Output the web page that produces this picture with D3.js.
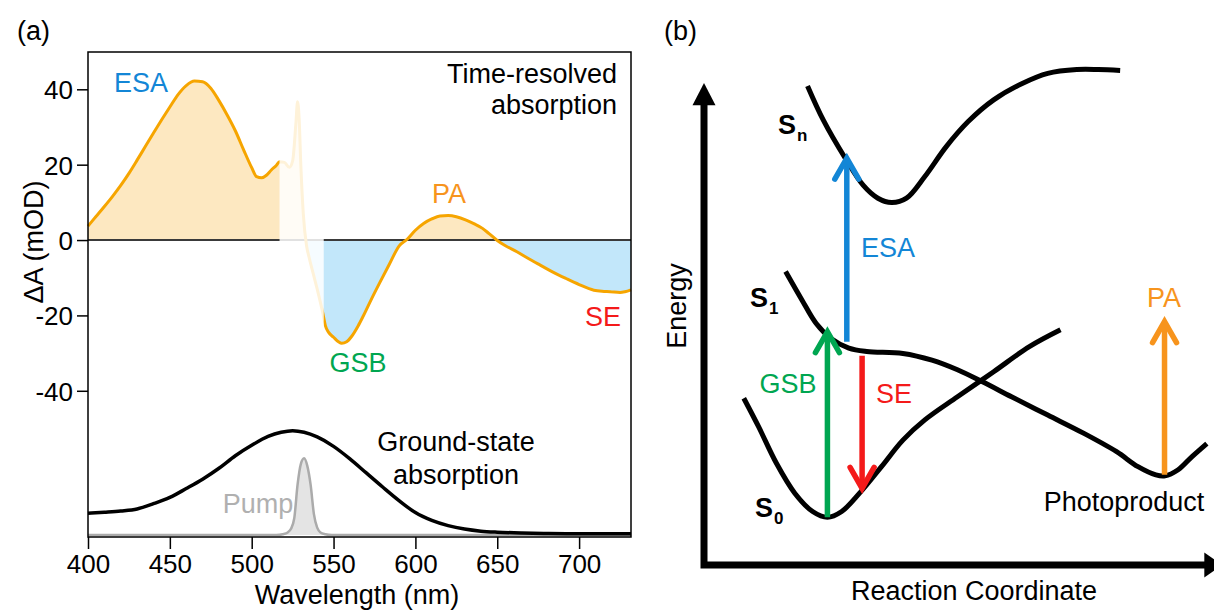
<!DOCTYPE html>
<html>
<head>
<meta charset="utf-8">
<script src="https://cdn.jsdelivr.net/npm/d3@7"></script>
<style>
  body { margin: 0; background: #fff; }
  text { font-family: "Liberation Sans", Arial, Helvetica, sans-serif; }
</style>
</head>
<body>
<div id="chart"></div>
<script>
// ---- panel (a) data ----
// transient absorption spectrum (mOD)
var taWavelength = [400, 405, 410, 415, 420, 425, 430, 435, 440, 445, 450, 455, 460, 465, 470, 475, 480, 485, 490, 495,
  500, 503, 506, 509, 512, 515, 517, 520, 523, 525, 527, 528, 529, 530, 531.5, 533.5, 535, 537.5, 540, 543.5,
  545, 547, 550, 553, 555, 558, 561, 565, 568, 573, 578, 584, 590, 595, 600, 605, 610, 615, 620, 625,
  631, 636, 641, 645, 650, 655, 662, 669, 676, 684, 692, 700, 709, 714, 719, 725, 728, 731.7];
var taSignal = [3.7, 6.3, 8.9, 11.6, 14.5, 17.7, 21.2, 24.8, 28.4, 31.9, 35.3, 38.6, 41.0, 42.2, 42.0, 40.3, 37.0, 33.2, 29.0, 24.0,
  19.2, 16.8, 16.5, 17.2, 18.6, 19.8, 20.8, 20.6, 19.3, 21.0, 31.0, 36.7, 32.0, 20.0, 7.1, -1.5, -4.5, -8.8, -13.0, -19.5,
  -22.7, -24.5, -25.8, -27.0, -27.4, -27.0, -25.6, -22.8, -20.3, -15.8, -11.5, -6.5, -1.6, 0.2, 2.6, 4.4, 5.6, 6.4, 6.5, 6.2,
  5.3, 4.3, 3.1, 1.7, -0.1, -1.5, -3.1, -4.9, -6.6, -8.5, -10.2, -11.8, -13.3, -13.6, -13.7, -13.9, -13.7, -13.2];

// normalised ground-state absorption
var gsWavelength = [400, 410, 420, 430, 440, 450, 460, 470, 480, 490, 500, 510, 518, 525, 532, 540, 550, 560, 570, 580,
  590, 600, 610, 620, 630, 640, 650, 665, 680, 700, 731.7];
var gsAbsorbance = [0.208, 0.218, 0.23, 0.25, 0.30, 0.36, 0.445, 0.535, 0.64, 0.76, 0.86, 0.945, 0.985, 1.0, 0.985, 0.94, 0.85, 0.73, 0.595, 0.46,
  0.33, 0.215, 0.14, 0.09, 0.057, 0.037, 0.027, 0.019, 0.015, 0.012, 0.012];

// pump spectrum (same normalisation)
var pumpWavelength = [400, 515, 519, 522, 524, 526, 528, 530, 532, 534, 536, 538, 540, 542, 545, 549, 731.7];
var pumpIntensity = [0, 0, 0.008, 0.025, 0.06, 0.16, 0.48, 0.68, 0.735, 0.66, 0.48, 0.2, 0.07, 0.025, 0.008, 0, 0];

var xTicks = [400, 450, 500, 550, 600, 650, 700];
var yTicks = [40, 20, 0, -20, -40];
var pumpScatter = [517, 544]; // range hidden by pump scatter

// ---- panel (b) data (arbitrary units) ----
var s0Coord = [7.8, 10.7, 14.2, 17.8, 21.3, 24.2, 27.0, 30.5, 34.8, 39.0, 43.3, 49.7, 56.8, 63.8, 69.9];
var s0Energy = [34.6, 28.7, 21.1, 14.9, 11.1, 9.9, 11.1, 14.9, 20.4, 25.9, 30.1, 34.9, 40.1, 45.3, 48.8];
var s1Coord = [16.0, 19.2, 22.0, 24.9, 28.4, 31.9, 39.0, 44.7, 49.7, 54.6, 60.3, 67.4, 74.5, 80.9, 85.1, 88.6, 90.4, 92.9, 95.7, 98.6];
var s1Energy = [60.9, 55.0, 50.1, 47.0, 45.0, 44.3, 43.9, 42.5, 40.5, 38.0, 34.9, 31.1, 27.3, 23.5, 20.4, 18.7, 18.5, 19.7, 22.5, 25.2];
var snCoord = [20.3, 23.4, 27.7, 31.2, 34.1, 36.8, 39.7, 43.3, 47.5, 51.8, 56.8, 62.4, 67.4, 73.1, 77.3, 81.6];
var snEnergy = [99.4, 92.3, 84.4, 78.8, 76.1, 75.2, 76.1, 80.6, 86.8, 92.0, 96.5, 99.9, 102.0, 102.8, 102.8, 102.6];

var arrowNames = ["GSB", "ESA", "SE", "PA"];
var arrowCoord = [24.2, 28.0, 31.0, 90.3];
var arrowFrom = [9.9, 46.3, 43.4, 18.7];
var arrowTo = [48.4, 84.4, 15.9, 50.5];

var colors = {
  ESA: "#1386d6",
  GSB: "#00a651",
  SE: "#f41a1a",
  PA: "#f7941d",
  line: "#f6a500",
  posFill: "#fde8c1",
  negFill: "#c2e7fa"
};

var svgWidth = 1214;
var svgHeight = 612;
var fontSize = 27;
var tickFontSize = 26;

var svg = d3.select("#chart")
  .append("svg")
  .attr("width", svgWidth)
  .attr("height", svgHeight);

// =================== panel (a) ===================
var frame = { left: 88, right: 631, top: 52, bottom: 537 };

var xScale = d3.scaleLinear()
  .domain([400, 731.7])
  .range([frame.left, frame.right]);

var yScale = d3.scaleLinear()
  .domain([-78.8, 49.9])
  .range([frame.bottom, frame.top]);

// lower part: normalised absorbance
var absScale = d3.scaleLinear()
  .domain([0, 1])
  .range([535, 430.7]);

var ta = taWavelength.map((w, i) => ({ w: w, v: taSignal[i] }));
var gs = gsWavelength.map((w, i) => ({ w: w, v: gsAbsorbance[i] }));
var pump = pumpWavelength.map((w, i) => ({ w: w, v: pumpIntensity[i] }));

var defs = svg.append("defs");
defs.append("clipPath").attr("id", "clipPos")
  .append("rect")
  .attr("x", frame.left).attr("y", frame.top)
  .attr("width", frame.right - frame.left)
  .attr("height", yScale(0) - frame.top);
defs.append("clipPath").attr("id", "clipNeg")
  .append("rect")
  .attr("x", frame.left).attr("y", yScale(0))
  .attr("width", frame.right - frame.left)
  .attr("height", frame.bottom - yScale(0));

var taArea = d3.area()
  .x(d => xScale(d.w))
  .y0(yScale(0))
  .y1(d => yScale(d.v))
  .curve(d3.curveMonotoneX);

var taLine = d3.line()
  .x(d => xScale(d.w))
  .y(d => yScale(d.v))
  .curve(d3.curveMonotoneX);

svg.append("path").datum(ta)
  .attr("d", taArea)
  .attr("fill", colors.posFill)
  .attr("clip-path", "url(#clipPos)");

svg.append("path").datum(ta)
  .attr("d", taArea)
  .attr("fill", colors.negFill)
  .attr("clip-path", "url(#clipNeg)");

// zero line
svg.append("line")
  .attr("x1", frame.left).attr("x2", frame.right)
  .attr("y1", yScale(0)).attr("y2", yScale(0))
  .attr("stroke", "#3a3a3a")
  .attr("stroke-width", 2);

svg.append("path").datum(ta)
  .attr("d", taLine)
  .attr("fill", "none")
  .attr("stroke", colors.line)
  .attr("stroke-width", 3);

// fade out the pump scatter region
svg.append("rect")
  .attr("x", xScale(pumpScatter[0]))
  .attr("width", xScale(pumpScatter[1]) - xScale(pumpScatter[0]))
  .attr("y", frame.top + 1)
  .attr("height", yScale(-42) - frame.top)
  .attr("fill", "#fff")
  .attr("opacity", 0.85);

// ground-state absorption
var absLine = d3.line()
  .x(d => xScale(d.w))
  .y(d => absScale(d.v))
  .curve(d3.curveMonotoneX);

svg.append("path").datum(pump)
  .attr("d", d3.area()
    .x(d => xScale(d.w))
    .y0(absScale(0))
    .y1(d => absScale(d.v))
    .curve(d3.curveMonotoneX))
  .attr("fill", "#e4e4e4");

svg.append("path").datum(pump)
  .attr("d", absLine)
  .attr("fill", "none")
  .attr("stroke", "#ababab")
  .attr("stroke-width", 2.5);

svg.append("path").datum(gs)
  .attr("d", absLine)
  .attr("fill", "none")
  .attr("stroke", "#000")
  .attr("stroke-width", 3.5);

// frame
svg.append("rect")
  .attr("x", frame.left).attr("y", frame.top)
  .attr("width", frame.right - frame.left)
  .attr("height", frame.bottom - frame.top)
  .attr("fill", "none")
  .attr("stroke", "#000")
  .attr("stroke-width", 1.5);

// axes
var bottomAxis = d3.axisBottom(xScale)
  .tickValues(xTicks)
  .tickSize(12)
  .tickSizeOuter(0)
  .tickPadding(6)
  .tickFormat(d => String(d));

var leftAxis = d3.axisLeft(yScale)
  .tickValues(yTicks)
  .tickSize(11)
  .tickSizeOuter(0)
  .tickPadding(4)
  .tickFormat(d => String(d));

var gx = svg.append("g")
  .attr("transform", `translate(0, ${frame.bottom})`)
  .call(bottomAxis);
var gy = svg.append("g")
  .attr("transform", `translate(${frame.left}, 0)`)
  .call(leftAxis);

[gx, gy].forEach(function(g) {
  g.select(".domain").remove();
  g.selectAll(".tick line").attr("stroke", "#000").attr("stroke-width", 1.5);
  g.selectAll(".tick text")
    .attr("fill", "#000")
    .attr("font-size", tickFontSize)
    .attr("font-family", "Liberation Sans, Arial, sans-serif");
});
gy.selectAll(".tick text").attr("dy", "0.36em");

// axis titles
svg.append("text")
  .attr("transform", "translate(33, 242) rotate(-90)")
  .attr("text-anchor", "middle")
  .attr("dy", "0.36em")
  .attr("font-size", fontSize)
  .text("ΔA (mOD)");

svg.append("text")
  .attr("x", 357)
  .attr("y", 604)
  .attr("text-anchor", "middle")
  .attr("font-size", fontSize)
  .text("Wavelength (nm)");

// annotations in panel (a)
function label(x, y, str, color, anchor, size) {
  return svg.append("text")
    .attr("x", x)
    .attr("y", y)
    .attr("text-anchor", anchor || "start")
    .attr("fill", color || "#000")
    .attr("font-size", size || fontSize)
    .text(str);
}

label(17, 40, "(a)");
label(114, 92, "ESA", colors.ESA);
label(617, 83, "Time-resolved", "#000", "end");
label(617, 114, "absorption", "#000", "end");
label(449, 203, "PA", colors.PA, "middle");
label(358, 372, "GSB", colors.GSB, "middle");
label(603, 326, "SE", colors.SE, "middle");
label(456, 451, "Ground-state", "#000", "middle");
label(456, 484, "absorption", "#000", "middle");
label(258, 513, "Pump", "#b0b0b0", "middle");

// =================== panel (b) ===================
var rcScale = d3.scaleLinear()
  .domain([0, 100])
  .range([704, 1214]);

var enScale = d3.scaleLinear()
  .domain([0, 100])
  .range([565, 83]);

var stateLine = d3.line()
  .x(d => rcScale(d[0]))
  .y(d => enScale(d[1]))
  .curve(d3.curveCatmullRom.alpha(0.5));

[[s0Coord, s0Energy], [s1Coord, s1Energy], [snCoord, snEnergy]].forEach(function(s) {
  var pts = s[0].map((c, i) => [c, s[1][i]]);
  svg.append("path").datum(pts)
    .attr("d", stateLine)
    .attr("fill", "none")
    .attr("stroke", "#000")
    .attr("stroke-width", 5)
    .attr("stroke-linecap", "butt");
});

// energy / reaction coordinate axes
var ox = rcScale(0), oy = enScale(0);
svg.append("path")
  .attr("d", `M${ox},${enScale(95.5)} L${ox},${oy} L${rcScale(98.2)},${oy}`)
  .attr("fill", "none")
  .attr("stroke", "#000")
  .attr("stroke-width", 7)
  .attr("stroke-linejoin", "miter")
  .attr("stroke-linecap", "square");

svg.append("path")
  .attr("d", `M${ox},${enScale(100)} L${ox - 11.5},${enScale(95.4)} L${ox + 11.5},${enScale(95.4)} Z`)
  .attr("fill", "#000");

svg.append("path")
  .attr("d", `M${rcScale(101.6)},${oy} L${rcScale(98.1)},${oy - 12.5} L${rcScale(98.1)},${oy + 12.5} Z`)
  .attr("fill", "#000");

svg.append("text")
  .attr("transform", "translate(676, 306) rotate(-90)")
  .attr("text-anchor", "middle")
  .attr("dy", "0.36em")
  .attr("font-size", fontSize)
  .text("Energy");

svg.append("text")
  .attr("x", 974)
  .attr("y", 600)
  .attr("text-anchor", "middle")
  .attr("font-size", fontSize)
  .text("Reaction Coordinate");

// transition arrows
arrowNames.forEach(function(name, i) {
  var x = rcScale(arrowCoord[i]);
  var y0 = enScale(arrowFrom[i]);
  var y1 = enScale(arrowTo[i]);
  var dir = y1 < y0 ? 1 : -1; // 1: pointing up
  var g = svg.append("g")
    .attr("stroke", colors[name])
    .attr("stroke-width", 5.5)
    .attr("fill", "none");
  g.append("line")
    .attr("x1", x).attr("x2", x)
    .attr("y1", y0).attr("y2", y1 + dir * 2);
  g.append("path")
    .attr("d", d3.line()([[x - 12, y1 + dir * 21], [x, y1], [x + 12, y1 + dir * 21]]))
    .attr("stroke-linejoin", "miter")
    .attr("stroke-linecap", "round");
});

label(664, 40, "(b)");
label(861, 257, "ESA", colors.ESA);
label(788, 393, "GSB", colors.GSB, "middle");
label(876, 403, "SE", colors.SE);
label(1164, 307, "PA", colors.PA, "middle");
label(1124, 511, "Photoproduct", "#000", "middle");

// state labels with subscripts
function stateLabel(x, y, sub) {
  var t = svg.append("text")
    .attr("x", x)
    .attr("y", y)
    .attr("font-size", fontSize)
    .attr("font-weight", "bold");
  t.append("tspan").text("S");
  t.append("tspan")
    .attr("font-size", 17)
    .attr("dy", 7)
    .attr("dx", 1)
    .text(sub);
}
stateLabel(778, 134, "n");
stateLabel(750, 307, "1");
stateLabel(755, 517, "0");
</script>
</body>
</html>
